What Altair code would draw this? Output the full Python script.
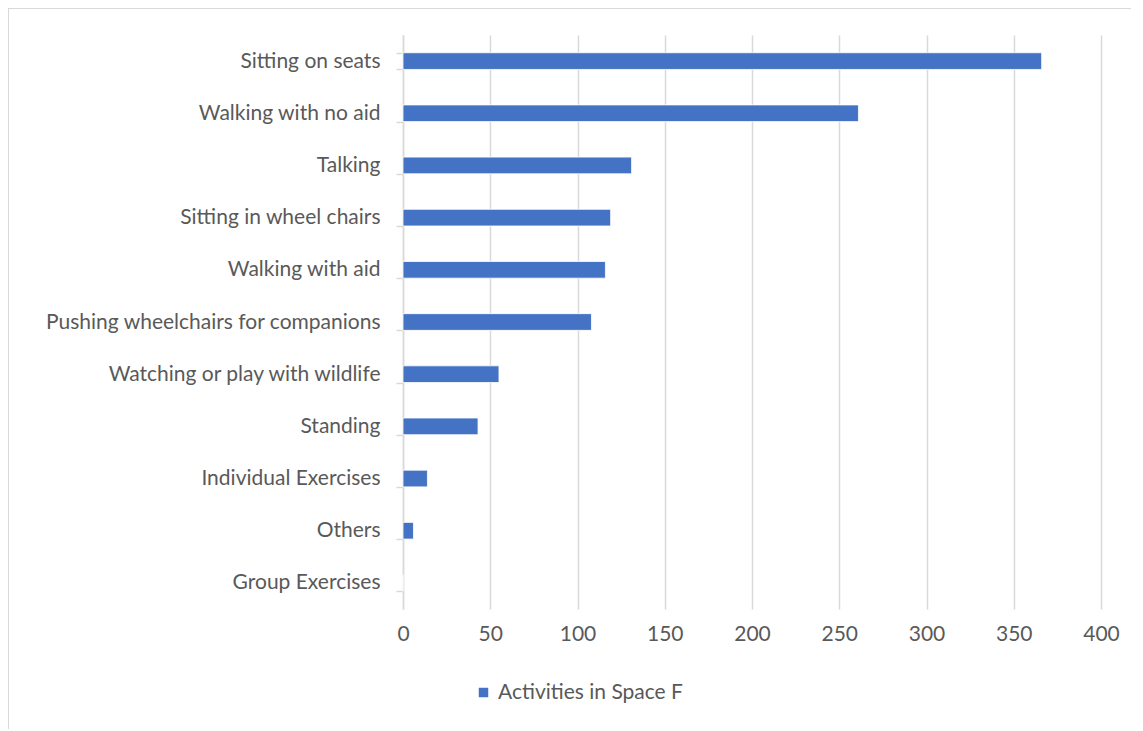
import altair as alt
import pandas as pd

categories = [
    "Sitting on seats",
    "Walking with no aid",
    "Talking",
    "Sitting in wheel chairs",
    "Walking with aid",
    "Pushing wheelchairs for companions",
    "Watching or play with wildlife",
    "Standing",
    "Individual Exercises",
    "Others",
    "Group Exercises",
]
values = [366, 261, 131, 119, 116, 108, 55, 43, 14, 6, 0]
series_name = "Activities in Space F"
x_ticks = [0, 50, 100, 150, 200, 250, 300, 350, 400]

df = pd.DataFrame({"Activity": categories, "Count": values, "Series": series_name})

FONT = "Lato"
FS = 21
GREY = "#595959"
LINE = "#d9d9d9"

bars = alt.Chart(df).mark_bar(color="#4472C4", stroke="white", strokeWidth=0.8).encode(
    y=alt.Y(
        "Activity:N",
        sort=categories,
        title=None,
        scale=alt.Scale(paddingInner=0.68, paddingOuter=0.34),
        axis=alt.Axis(
            tickBand="extent",
            tickSize=7,
            tickColor=LINE,
            tickWidth=1.5,
            domainColor=LINE,
            domainWidth=1.5,
            labelFont=FONT,
            labelFontSize=FS,
            labelColor=GREY,
            labelPadding=16,
            labelLimit=500,
            grid=False,
        ),
    ),
    x=alt.X(
        "Count:Q",
        title=None,
        scale=alt.Scale(domain=[0, 400], nice=False),
        axis=alt.Axis(
            values=x_ticks,
            domain=False,
            ticks=False,
            grid=True,
            gridColor=LINE,
            gridWidth=1.5,
            labelFont=FONT,
            labelFontSize=FS,
            labelColor=GREY,
            labelPadding=14,
            labelFlush=False,
        ),
    ),
    color=alt.Color(
        "Series:N",
        scale=alt.Scale(domain=[series_name], range=["#4472C4"]),
        legend=alt.Legend(
            title=None,
            orient="none",
            legendX=70,
            legendY=647,
            symbolType="square",
            symbolSize=90,
            symbolStrokeWidth=0,
            labelFont=FONT,
            labelFontSize=FS,
            labelColor=GREY,
            labelOffset=4,
            labelLimit=500,
        ),
    ),
)

frame_top = alt.Chart(df.head(1)).mark_rule(color=LINE, strokeWidth=2).encode(
    x=alt.value(-395), x2=alt.value(760), y=alt.value(-27)
)
frame_left = alt.Chart(df.head(1)).mark_rule(color=LINE, strokeWidth=2).encode(
    x=alt.value(-395), y=alt.value(-27), y2=alt.value(720)
)

chart = (
    alt.layer(frame_top, frame_left, bars)
    .properties(
        width=698,
        height=574,
        padding={"left": 395, "top": 27, "right": 30, "bottom": 120},
        autosize=alt.AutoSizeParams(type="none"),
        background="white",
    )
    .configure_view(stroke=None)
)

chart.save("out.html", embed_options={"renderer": "svg", "actions": False})
